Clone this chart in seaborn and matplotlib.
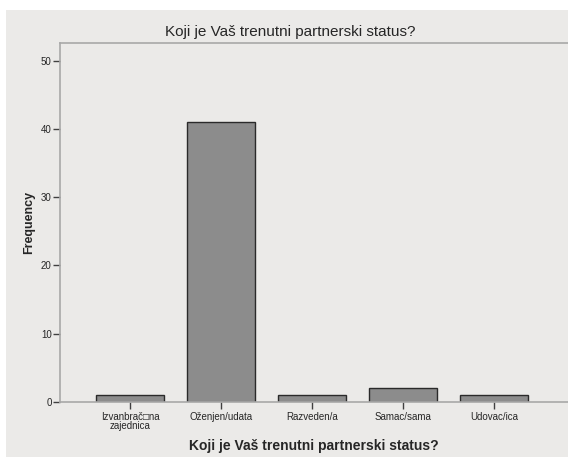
import matplotlib
matplotlib.use("Agg")

import matplotlib.pyplot as plt
import seaborn as sns
import pandas as pd
from matplotlib.patches import Rectangle

output_filename = "out.png"

categories = ["Izvanbrač\u25a1na\nzajednica", "Oženjen/udata", "Razveden/a", "Samac/sama", "Udovac/ica"]
counts = [1, 41, 1, 2, 1]
title = "Koji je Vaš trenutni partnerski status?"

bg = "#ebeae8"
spine_col = "#a8a8a8"

sns.set_style("white")
plt.rcParams['font.family'] = ['Liberation Sans', 'DejaVu Sans']

fig = plt.figure(figsize=(5.68, 4.57), dpi=100, facecolor="white")
# gray panel behind the chart, leaving a thin white margin top/left
fig.patches.append(Rectangle((6 / 568, 0), 1, 1 - 10 / 457, transform=fig.transFigure,
                             facecolor=bg, edgecolor="none", zorder=-10))

ax = fig.add_axes([60 / 568, 1 - 402 / 457, 508 / 568, 359 / 457])
ax.set_facecolor(bg)

df = pd.DataFrame({"status": categories, "freq": counts})
sns.barplot(data=df, x="status", y="freq", color="#8c8c8c", saturation=1,
            width=0.75, edgecolor="#2a2a2a", linewidth=1.0, ax=ax)

ax.set_ylim(0, 52.6)
ax.set_xlim(-0.77, 4.81)
ax.set_yticks([0, 10, 20, 30, 40, 50])

for side in ["left", "top", "bottom"]:
    ax.spines[side].set_visible(True)
    ax.spines[side].set_color(spine_col)
    ax.spines[side].set_linewidth(1.2)
ax.spines["right"].set_visible(False)

ax.tick_params(axis="y", direction="out", length=5, width=1, color="#404040",
               labelsize=7, pad=1, left=True)
ax.tick_params(axis="x", direction="out", length=5, width=1, color="#404040",
               labelsize=7, pad=2, bottom=True)
for lbl in ax.get_xticklabels():
    lbl.set_linespacing(0.9)

# title is centred on the whole chart panel, not on the axes
fig.text(290 / 568, 1 - 32 / 457, title, fontsize=11, ha="center", va="center")
ax.set_xlabel(title, fontsize=10, fontweight="bold", labelpad=6)
ax.set_ylabel("Frequency", fontsize=9, fontweight="bold", labelpad=4)

plt.savefig(output_filename, dpi=100, facecolor="white")
